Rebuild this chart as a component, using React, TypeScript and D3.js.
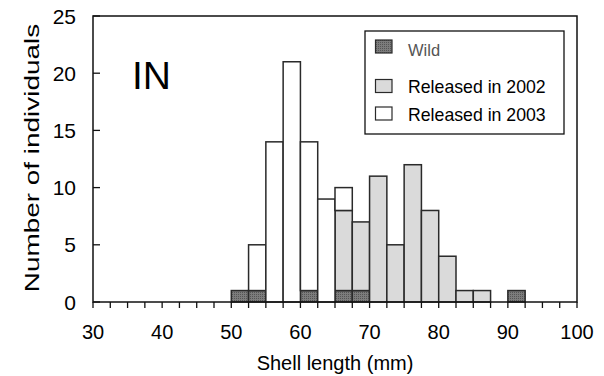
import React from "react";
import * as d3 from "d3";

// Histogram bins of shell length, 2.5 mm wide, starting at each value below
const binStarts = [30, 32.5, 35, 37.5, 40, 42.5, 45, 47.5, 50, 52.5, 55, 57.5, 60, 62.5, 65, 67.5, 70, 72.5, 75, 77.5, 80, 82.5, 85, 87.5, 90, 92.5, 95, 97.5];
const wild =         [0, 0, 0, 0, 0, 0, 0, 0, 1, 1, 0, 0, 1, 0, 1, 1, 0, 0, 0, 0, 0, 0, 0, 0, 1, 0, 0, 0];
const released2002 = [0, 0, 0, 0, 0, 0, 0, 0, 0, 0, 0, 0, 0, 0, 7, 6, 11, 5, 12, 8, 4, 1, 1, 0, 0, 0, 0, 0];
const released2003 = [0, 0, 0, 0, 0, 0, 0, 0, 0, 4, 14, 21, 13, 9, 2, 0, 0, 0, 0, 0, 0, 0, 0, 0, 0, 0, 0, 0];
const binWidth = 2.5;

const xTickLabels = [30, 40, 50, 60, 70, 80, 90, 100];
const yTickLabels = [0, 5, 10, 15, 20, 25];
const seriesNames = ["Wild", "Released in 2002", "Released in 2003"];

const FONT = "'Liberation Sans', Arial, sans-serif";
const STROKE = "#2a2a2a";

export default function App() {
  const width = 604;
  const height = 376;
  const x = d3.scaleLinear().domain([30, 100]).range([93, 577]);
  const y = d3.scaleLinear().domain([0, 25]).range([302, 16]);

  const rows = binStarts.map((s, i) => ({
    start: s,
    wild: wild[i],
    r2002: released2002[i],
    r2003: released2003[i],
  }));
  const stack = d3.stack<any>().keys(["wild", "r2002", "r2003"])(rows);
  const fills = ["url(#wildPat)", "#dadada", "#ffffff"];

  const minorTicks = d3.range(30, 100.01, 2.5);

  // legend rows: swatch centre and text baseline
  const legendRows = [
    { cy: 46.5, base: 56, size: 16.5, color: "#555" },
    { cy: 86, base: 93, size: 17.7, color: "#000" },
    { cy: 113.5, base: 120.5, size: 17.7, color: "#000" },
  ];

  return (
    <svg width={width} height={height} style={{ position: "absolute", left: 0, top: 0, background: "#fff" }}>
      <defs>
        <pattern id="wildPat" width="2" height="2" patternUnits="userSpaceOnUse">
          <rect width="2" height="2" fill="#7c7c7c" />
          <rect width="1" height="1" fill="#555555" />
        </pattern>
      </defs>
      <rect width={width} height={height} fill="#fff" />

      {/* stacked bars */}
      {stack.map((layer, li) =>
        layer.map((d, i) => {
          const v = d[1] - d[0];
          if (v <= 0) return null;
          return (
            <rect
              key={`${li}-${i}`}
              x={x(binStarts[i])}
              y={y(d[1])}
              width={x(binStarts[i] + binWidth) - x(binStarts[i])}
              height={y(d[0]) - y(d[1])}
              fill={fills[li]}
              stroke={STROKE}
              strokeWidth={1.5}
            />
          );
        })
      )}

      {/* frame */}
      <rect x={x(30)} y={y(25)} width={x(100) - x(30)} height={y(0) - y(25)} fill="none" stroke="#111" strokeWidth={1.5} />

      {/* x ticks */}
      {minorTicks.map((t) => (
        <line key={t} x1={x(t)} x2={x(t)} y1={y(0)} y2={y(0) + 6} stroke="#111" strokeWidth={1.3} />
      ))}
      {xTickLabels.map((t) => (
        <text key={t} x={x(t)} y={339} textAnchor="middle" fontFamily={FONT} fontSize={20} fill="#000">
          {t}
        </text>
      ))}

      {/* y ticks */}
      {yTickLabels.map((t) => (
        <g key={t}>
          <line x1={x(30)} x2={x(30) + 7} y1={y(t)} y2={y(t)} stroke="#111" strokeWidth={1.3} />
          <text x={76} y={y(t) + 7.5} textAnchor="end" fontFamily={FONT} fontSize={21} fill="#000">
            {t}
          </text>
        </g>
      ))}

      {/* axis titles */}
      <text x={335} y={370} textAnchor="middle" fontFamily={FONT} fontSize={20} fill="#000">
        Shell length (mm)
      </text>
      <text
        transform={`translate(39,158) rotate(-90) scale(1.33,1)`}
        textAnchor="middle"
        fontFamily={FONT}
        fontSize={21}
        fill="#000"
      >
        Number of individuals
      </text>

      {/* panel label */}
      <text x={132} y={89} fontFamily={FONT} fontSize={39} fill="#000">
        IN
      </text>

      {/* legend */}
      <rect x={365} y={31} width={199} height={103} fill="#fff" stroke="#111" strokeWidth={1.3} />
      {seriesNames.map((name, i) => {
        const r = legendRows[i];
        return (
          <g key={name}>
            <rect x={375.5} y={r.cy - 6.5} width={16.5} height={13} fill={fills[i]} stroke={STROKE} strokeWidth={1.2} />
            <text x={408} y={r.base} fontFamily={FONT} fontSize={r.size} fill={r.color}>
              {name}
            </text>
          </g>
        );
      })}
    </svg>
  );
}
